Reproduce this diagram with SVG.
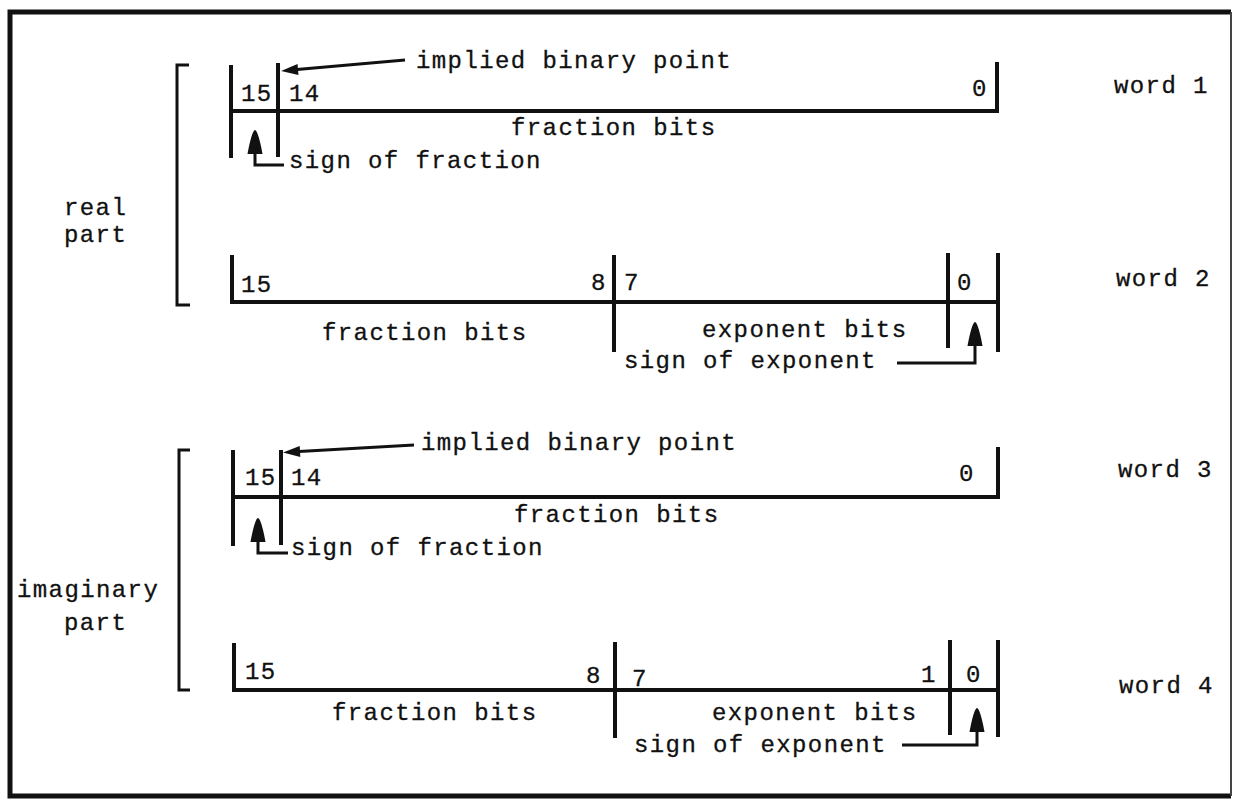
<svg xmlns="http://www.w3.org/2000/svg" width="1233" height="799" viewBox="0 0 1233 799">
<style>
.t{font-family:"Liberation Mono","DejaVu Sans Mono",monospace;font-size:24px;letter-spacing:1.4px;fill:#111;stroke:#111;stroke-width:0.3}
.bar{stroke:#111;stroke-width:4;fill:none;stroke-linecap:butt}
.br{stroke:#111;stroke-width:3;fill:none}
.con{stroke:#111;stroke-width:3;fill:none}
.frame{stroke:#111;stroke-width:5;fill:none}
</style>
<defs>
<marker id="ptr" markerUnits="userSpaceOnUse" markerWidth="22" markerHeight="14" refX="1" refY="5.5" orient="auto" overflow="visible">
<path d="M0,0 L17,5.5 L0,11 Z" fill="#111"/>
</marker>
<marker id="bullet" markerUnits="userSpaceOnUse" markerWidth="26" markerHeight="16" refX="0" refY="7.5" orient="auto" overflow="visible">
<path d="M0,0 L0,15 C9,13.5 24,10 24,7.5 C24,5 9,1.5 0,0 Z" fill="#111"/>
</marker>
</defs>
<rect width="1233" height="799" fill="#fff"/>
<path class="frame" d="M1231,12 H10 V796 H1231"/>
<path d="M1231,12 V796" stroke="#444" stroke-width="2" fill="none"/>

<g id="real-part">
<path class="br" d="M189,65 H177 V305 H190"/>
<text class="t" x="64" y="215">real</text>
<text class="t" x="64" y="242">part</text>
</g>
<g id="imaginary-part">
<path class="br" d="M190,450 H179 V690 H190"/>
<text class="t" x="17" y="597">imaginary</text>
<text class="t" x="64" y="630">part</text>
</g>

<g id="word1">
<path class="bar" d="M231,65 V158 M278,63 V157 M231,111 H999 M997,62 V111"/>
<text class="t" x="241" y="101">15</text>
<text class="t" x="289" y="101">14</text>
<text class="t" x="972" y="96">0</text>
<text class="t" x="416" y="68">implied binary point</text>
<text class="t" x="511" y="135">fraction bits</text>
<text class="t" x="289" y="168">sign of fraction</text>
<text class="t" x="1114" y="93">word 1</text>
</g>

<g id="word2">
<path class="bar" d="M232,255 V304 M232,302 H1000 M614,255 V352 M948,253 V348 M998,253 V352"/>
<text class="t" x="241" y="292">15</text>
<text class="t" x="591" y="290">8</text>
<text class="t" x="624" y="290">7</text>
<text class="t" x="957" y="290">0</text>
<text class="t" x="322" y="340">fraction bits</text>
<text class="t" x="702" y="337">exponent bits</text>
<text class="t" x="624" y="368">sign of exponent</text>
<text class="t" x="1116" y="286">word 2</text>
</g>

<g id="word3">
<path class="bar" d="M233,450 V546 M281,450 V545 M233,497 H1000 M998,447 V497"/>
<text class="t" x="245" y="485">15</text>
<text class="t" x="291" y="485">14</text>
<text class="t" x="959" y="481">0</text>
<text class="t" x="421" y="450">implied binary point</text>
<text class="t" x="514" y="522">fraction bits</text>
<text class="t" x="291" y="555">sign of fraction</text>
<text class="t" x="1118" y="477">word 3</text>
</g>

<g id="word4">
<path class="bar" d="M234,643 V692 M234,690 H1000 M615,642 V738 M950,640 V735 M998,640 V737"/>
<text class="t" x="245" y="679">15</text>
<text class="t" x="586" y="683">8</text>
<text class="t" x="632" y="686">7</text>
<text class="t" x="921" y="682">1</text>
<text class="t" x="966" y="682">0</text>
<text class="t" x="332" y="720">fraction bits</text>
<text class="t" x="712" y="720">exponent bits</text>
<text class="t" x="634" y="752">sign of exponent</text>
<text class="t" x="1119" y="693">word 4</text>
</g>

<g id="connectors">
<path class="con" d="M405,60 L297,69.5" marker-end="url(#ptr)"/>
<path class="con" d="M284,165 H255 V154" marker-end="url(#bullet)"/>
<path class="con" d="M897,363 H975 V346" marker-end="url(#bullet)"/>
<path class="con" d="M414,445 L299,451.5" marker-end="url(#ptr)"/>
<path class="con" d="M288,553 H258 V542" marker-end="url(#bullet)"/>
<path class="con" d="M902,745 H977 V732" marker-end="url(#bullet)"/>
</g>
</svg>
